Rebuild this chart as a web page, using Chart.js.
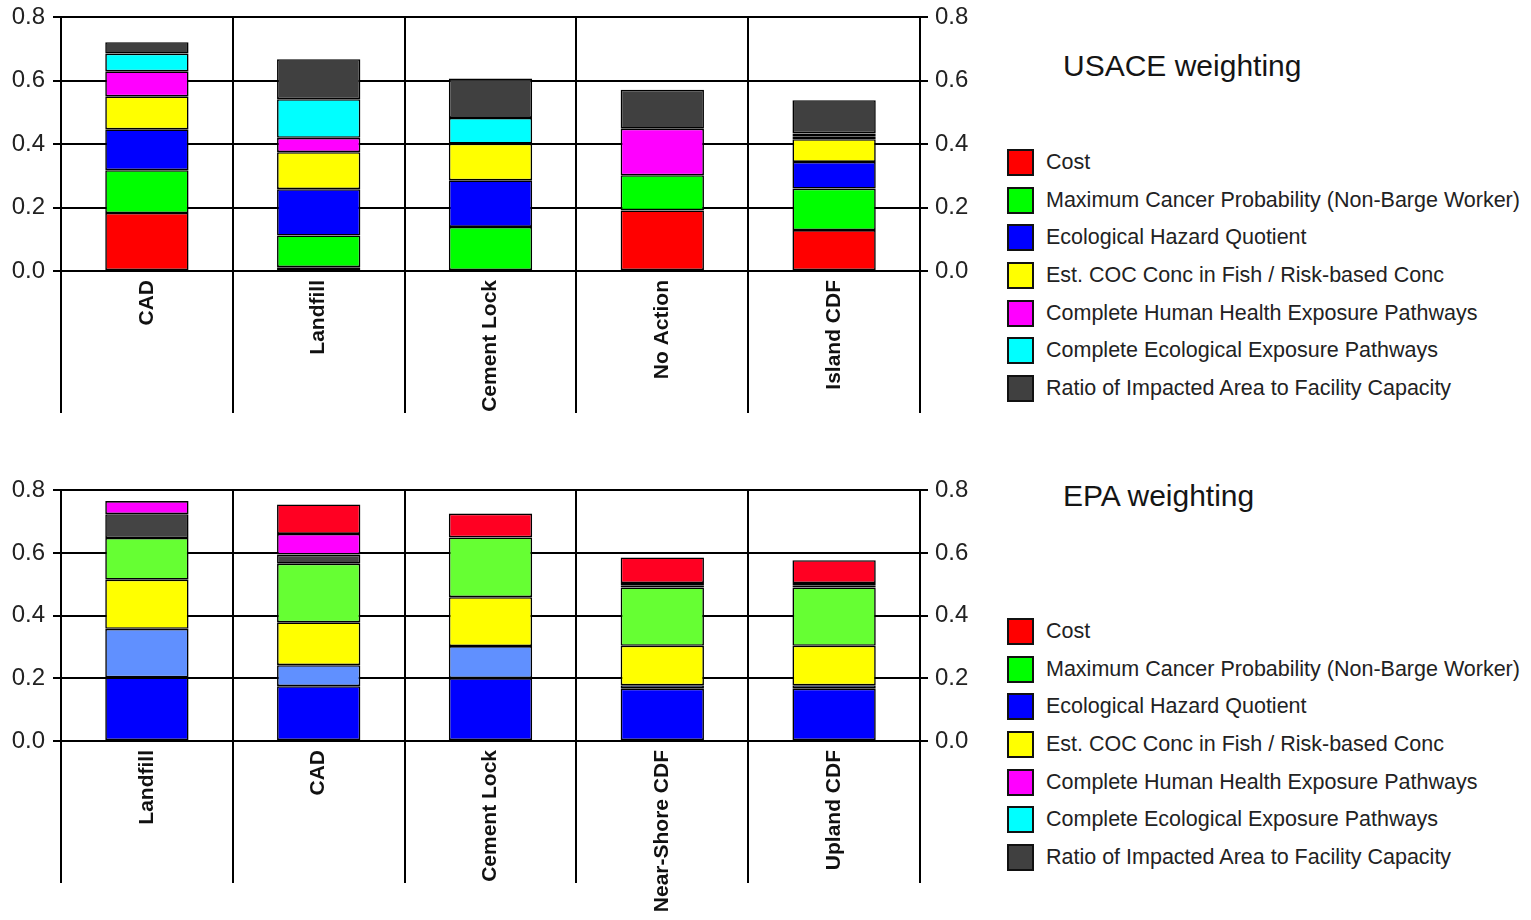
<!DOCTYPE html>
<html>
<head>
<meta charset="utf-8">
<script src="https://cdn.jsdelivr.net/npm/chart.js@4/dist/chart.umd.min.js"></script>
<style>
	body { margin: 0; background: #fff; }
	#wrap { position: relative; width: 1531px; height: 920px; overflow: hidden; font-family: "Liberation Sans", Arial, sans-serif; }
	canvas { position: absolute; left: 0; }
	.title { position: absolute; left: 1063px; font-size: 30px; line-height: 30px; color: #151515; white-space: nowrap; }
	.legend { position: absolute; left: 1007px; }
	.legend .row { height: 37.6px; display: flex; align-items: center; white-space: nowrap; font-size: 21.5px; color: #222; }
	.legend .box { width: 23px; height: 23px; border: 2px solid #111; margin-right: 12px; }
</style>
</head>
<body>
<div id="wrap">
	<canvas id="usace" width="1000" height="451" style="top:-5px"></canvas>
	<canvas id="epa" width="1000" height="452" style="top:468px"></canvas>
	<div class="title" style="top:51px">USACE weighting</div>
	<div class="legend" id="usaceLegend" style="top:144px"></div>
	<div class="title" style="top:481px">EPA weighting</div>
	<div class="legend" id="epaLegend" style="top:613px"></div>
</div>
<script>
// legend (same for both panels)
var legendNames = ["Cost", "Maximum Cancer Probability (Non-Barge Worker)", "Ecological Hazard Quotient",
	"Est. COC Conc in Fish / Risk-based Conc", "Complete Human Health Exposure Pathways",
	"Complete Ecological Exposure Pathways", "Ratio of Impacted Area to Facility Capacity"];
var legendColors = ["#ff0000", "#00ff00", "#0000ff", "#ffff00", "#ff00ff", "#00ffff", "#404040"];

// USACE weighting
var usaceLabels = ["CAD", "Landfill", "Cement Lock", "No Action", "Island CDF"];
var usaceCost = [0.183, 0.012, 0, 0.191, 0.129];
var usaceCancer = [0.135, 0.100, 0.139, 0.111, 0.131];
var usaceEcoHQ = [0.129, 0.146, 0.147, 0, 0.084];
var usaceFish = [0.104, 0.117, 0.116, 0, 0.072];
var usaceHuman = [0.079, 0.045, 0, 0.147, 0.009];
var usaceEcoPath = [0.056, 0.122, 0.081, 0, 0.009];
var usaceRatio = [0.036, 0.126, 0.124, 0.123, 0.105];

// EPA weighting (stacked bottom to top in this order)
var epaLabels = ["Landfill", "CAD", "Cement Lock", "Near-Shore CDF", "Upland CDF"];
var epaEcoHQ = [0.203, 0.175, 0.201, 0.167, 0.167];
var epaEcoPath = [0.155, 0.067, 0.102, 0.011, 0.011];
var epaFish = [0.157, 0.137, 0.156, 0.126, 0.126];
var epaCancer = [0.133, 0.187, 0.191, 0.186, 0.186];
var epaRatio = [0.076, 0.029, 0, 0.007, 0.007];
var epaHuman = [0.042, 0.066, 0, 0.007, 0.007];
var epaCost = [0, 0.094, 0.076, 0.082, 0.073];

var yTicks = [0, 0.2, 0.4, 0.6, 0.8];
var lineColor = "#000";

Chart.defaults.font.family = "'Liberation Sans', Arial, sans-serif";
Chart.defaults.animation = false;

function BuildLegend(id) {
	var el = document.getElementById(id);
	for (var i = 0; i < legendNames.length; i++) {
		var row = document.createElement("div");
		row.className = "row";
		var box = document.createElement("span");
		box.className = "box";
		box.style.background = legendColors[i];
		row.appendChild(box);
		row.appendChild(document.createTextNode(legendNames[i]));
		el.appendChild(row);
	}
}

function Bar(label, data, color) {
	return {
		label: label,
		data: data,
		backgroundColor: color,
		borderColor: "#000",
		borderWidth: 1.6,
		borderSkipped: false,
		categoryPercentage: 1,
		barPercentage: 0.485
	};
}

function YAxis(pos, width, pad) {
	return {
		position: pos,
		min: 0,
		max: 0.8,
		stacked: true,
		afterBuildTicks: function (scale) {
			scale.ticks = yTicks.map(function (v) { return { value: v }; });
		},
		ticks: {
			padding: pad,
			color: "#222",
			font: { size: 24 },
			callback: function (v) { return Number(v).toFixed(1); }
		},
		grid: { color: lineColor, lineWidth: 2, tickLength: 8, drawOnChartArea: pos === "left" },
		border: { display: true, color: lineColor, width: 2 },
		afterFit: function (scale) { scale.width = width; }
	};
}

// axis box is taller than the divider ticks so the rotated names are not clipped
function CreateChart(id, labels, datasets, padTop, padBottom) {
	var ctx = document.getElementById(id).getContext("2d");
	return new Chart(ctx, {
		type: "bar",
		data: { labels: labels, datasets: datasets },
		options: {
			responsive: false,
			layout: { padding: { top: padTop, bottom: padBottom, left: 0, right: 0 } },
			plugins: { legend: { display: false }, tooltip: { enabled: false } },
			scales: {
				x: {
					stacked: true,
					offset: true,
					grid: { offset: true, color: lineColor, lineWidth: 2, tickLength: 142 },
					border: { display: true, color: lineColor, width: 2 },
					ticks: {
						autoSkip: false,
						maxRotation: 90,
						minRotation: 90,
						padding: -133,
						color: "#111",
						font: { size: 21, weight: "bold" }
					},
					afterFit: function (scale) { scale.height = 175; }
				},
				y: YAxis("left", 61, 8),
				y2: YAxis("right", 80, 7)
			}
		}
	});
}

CreateChart("usace", usaceLabels, [
	Bar(legendNames[0], usaceCost, "#ff0000"),
	Bar(legendNames[1], usaceCancer, "#00ff00"),
	Bar(legendNames[2], usaceEcoHQ, "#0000ff"),
	Bar(legendNames[3], usaceFish, "#ffff00"),
	Bar(legendNames[4], usaceHuman, "#ff00ff"),
	Bar(legendNames[5], usaceEcoPath, "#00ffff"),
	Bar(legendNames[6], usaceRatio, "#404040")
], 12, 0);

CreateChart("epa", epaLabels, [
	Bar(legendNames[2], epaEcoHQ, "#0000ff"),
	Bar(legendNames[5], epaEcoPath, "#6090ff"),
	Bar(legendNames[3], epaFish, "#ffff00"),
	Bar(legendNames[1], epaCancer, "#66ff33"),
	Bar(legendNames[6], epaRatio, "#444444"),
	Bar(legendNames[4], epaHuman, "#ff00ff"),
	Bar(legendNames[0], epaCost, "#ff0022")
], 12, 4);

BuildLegend("usaceLegend");
BuildLegend("epaLegend");
</script>
</body>
</html>
